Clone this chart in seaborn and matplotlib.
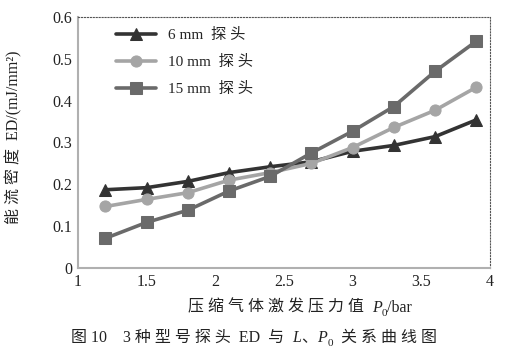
import pandas as pd
import seaborn as sns
import matplotlib.pyplot as plt

# 数据
pressure = [1.2, 1.5, 1.8, 2.1, 2.4, 2.7, 3.0, 3.3, 3.6, 3.9]
ed_6mm = [0.187, 0.192, 0.207, 0.228, 0.242, 0.254, 0.279, 0.293, 0.314, 0.354]
ed_10mm = [0.147, 0.164, 0.180, 0.210, 0.228, 0.250, 0.288, 0.336, 0.377, 0.432]
ed_15mm = [0.071, 0.109, 0.138, 0.184, 0.219, 0.275, 0.327, 0.386, 0.470, 0.542]

labels = ["6 mm  探 头", "10 mm  探 头", "15 mm  探 头"]
colors = ["#333333", "#a5a5a5", "#6a6a6a"]
markers = ["^", "o", "s"]

df = pd.DataFrame({
    "P0": pressure * 3,
    "ED": ed_6mm + ed_10mm + ed_15mm,
    "probe": [labels[0]] * 10 + [labels[1]] * 10 + [labels[2]] * 10,
})

sns.set_style("white")
plt.rcParams["font.family"] = ["Liberation Serif", "Noto Sans CJK SC"]

fig = plt.figure(figsize=(5.08, 3.54), dpi=100)
ax = fig.add_axes([0.1535, 0.243, 0.811, 0.709])

for lab, col, mk in zip(labels, colors, markers):
    sub = df[df["probe"] == lab]
    sns.lineplot(data=sub, x="P0", y="ED", ax=ax, color=col, marker=mk,
                 markersize=8, markeredgecolor=col, linewidth=2.6, label=lab)

ax.set_xlim(1, 4)
ax.set_ylim(0, 0.6)
ax.set_xticks([1, 1.5, 2, 2.5, 3, 3.5, 4])
ax.set_xticklabels(["1", "1.5", "2", "2.5", "3", "3.5", "4"])
ax.set_yticks([0, 0.1, 0.2, 0.3, 0.4, 0.5, 0.6])
ax.set_yticklabels(["0", "0.1", "0.2", "0.3", "0.4", "0.5", "0.6"])
ax.tick_params(axis="both", length=0, labelsize=11.5, pad=4, colors="#222222")

for s in ["left", "bottom"]:
    ax.spines[s].set_color("#b0b0b0")
    ax.spines[s].set_linewidth(1.5)
for s in ["top", "right"]:
    ax.spines[s].set_color("#555555")
    ax.spines[s].set_linewidth(0.8)
    ax.spines[s].set_linestyle(":")

ax.set_xlabel("")
ax.set_ylabel("能 流 密 度  ED/(mJ/mm²)", fontsize=11.5, color="#222222")
ax.yaxis.set_label_coords(-0.135, 0.52)

leg = ax.legend(loc="upper left", frameon=False, fontsize=11,
                handlelength=2.6, labelspacing=0.85, bbox_to_anchor=(0.06, 1.01))


def chain_text(x, y, pieces, size):
    # 逐段拼接文字，斜体与下标分开画
    parts = []
    for txt, kw in pieces:
        kw = dict(kw)
        kw.pop("dy", None)
        fs = kw.pop("fs", size)
        t = fig.text(0, 0, txt, fontsize=fs, va="baseline", ha="left",
                     color="#222222", **kw)
        parts.append(t)
    fig.canvas.draw()
    r = fig.canvas.get_renderer()
    widths = [p.get_window_extent(r).width / fig.bbox.width for p in parts]
    cx = x - sum(widths) / 2
    for p, w, (txt, kw) in zip(parts, widths, pieces):
        p.set_position((cx, y + kw.get("dy", 0)))
        cx += w


chain_text(0.59, 0.12, [
    ("压 缩 气 体 激 发 压 力 值  ", {}),
    ("P", {"style": "italic"}),
    ("0", {"fs": 8, "dy": -0.012}),
    ("/bar", {}),
], 11.5)

chain_text(0.5, 0.035, [
    ("图 10    3 种 型 号 探 头  ED  与  ", {}),
    ("L", {"style": "italic"}),
    ("、", {}),
    ("P", {"style": "italic"}),
    ("0", {"fs": 8, "dy": -0.012}),
    ("  关 系 曲 线 图", {}),
], 11.5)

fig.savefig("out.png", dpi=100)
